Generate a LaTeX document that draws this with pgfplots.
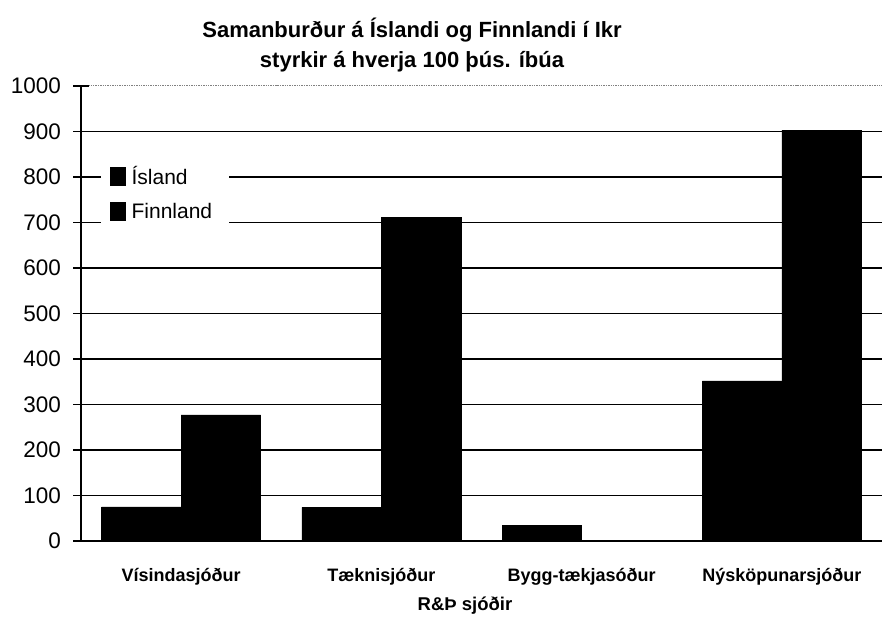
\documentclass[border=0pt]{standalone}
\usepackage{pgfplots}
\pgfplotsset{compat=1.18}
\usepackage{fontspec}
\setmainfont{Liberation Sans}
\begin{document}
\begin{tikzpicture}[x=1bp,y=1bp]
\useasboundingbox (-81,-76) rectangle (801,541);
\begin{axis}[
  at={(0,0)}, anchor=south west,
  scale only axis, width=801bp, height=455bp,
  ybar=0pt, bar width=79.5bp,
  xmin=-0.5, xmax=3.5, ymin=0, ymax=1000,
  axis x line*=bottom, axis y line*=left,
  axis line style={-, line width=1.3bp, black},
  xtick={0,1,2,3},
  xticklabels={Vísindasjóður,Tæknisjóður,Bygg-tækjasóður,Nýsköpunarsjóður},
  x tick label style={font=\fontsize{18bp}{22bp}\selectfont\bfseries, yshift=-9bp},
  xtick style={draw=none},
  extra x ticks={-0.5,0.5,1.5,2.5},
  extra x tick labels={},
  extra x tick style={xtick style={black, line width=1.2bp}, tick align=outside, major tick length=7bp},
  ytick={0,100,...,900},
  ymajorgrids,
  grid style={black, line width=1.4bp},
  extra y ticks={1000},
  extra y tick style={grid style={gray, densely dotted, line width=1bp}},
  ytick style={black, line width=1.2bp},
  ytick align=center, major tick length=15bp,
  y tick label style={font=\fontsize{22.5bp}{26bp}\selectfont, xshift=-9bp},
  /pgf/number format/.cd, 1000 sep={}, assume math mode=true, /pgfplots/.cd,
  legend style={draw=none, fill=white, font=\fontsize{21bp}{25bp}\selectfont,
    at={(axis description cs:0.025,0.83)}, anchor=north west,
    legend cell align=left, row sep=15bp, inner xsep=3bp, inner ysep=2bp,
    nodes={inner xsep=3bp, inner ysep=1bp}},
  legend image code/.code={\path (0bp,0bp) (24bp,0bp); \fill[black] (6bp,-9bp) rectangle (21bp,9bp);},
]
\addplot[fill=black, draw=black] coordinates {(0,75) (1,74) (2,35) (3,352)};
\addplot[fill=black, draw=black] coordinates {(0,277) (1,711) (2,0) (3,903)};
\legend{\makebox[91bp][l]{Ísland},\makebox[91bp][l]{Finnland}}
\end{axis}
\node[anchor=base, font=\fontsize{22bp}{26bp}\selectfont\bfseries] at (331,503) {Samanburður á Íslandi og Finnlandi í Ikr};
\node[anchor=base, font=\fontsize{22bp}{26bp}\selectfont\bfseries] at (331,473) {styrkir á hverja 100 þús. íbúa};
\node[anchor=base, font=\fontsize{18.5bp}{22bp}\selectfont\bfseries] at (384,-70) {R\&Þ sjóðir};
\end{tikzpicture}
\end{document}
